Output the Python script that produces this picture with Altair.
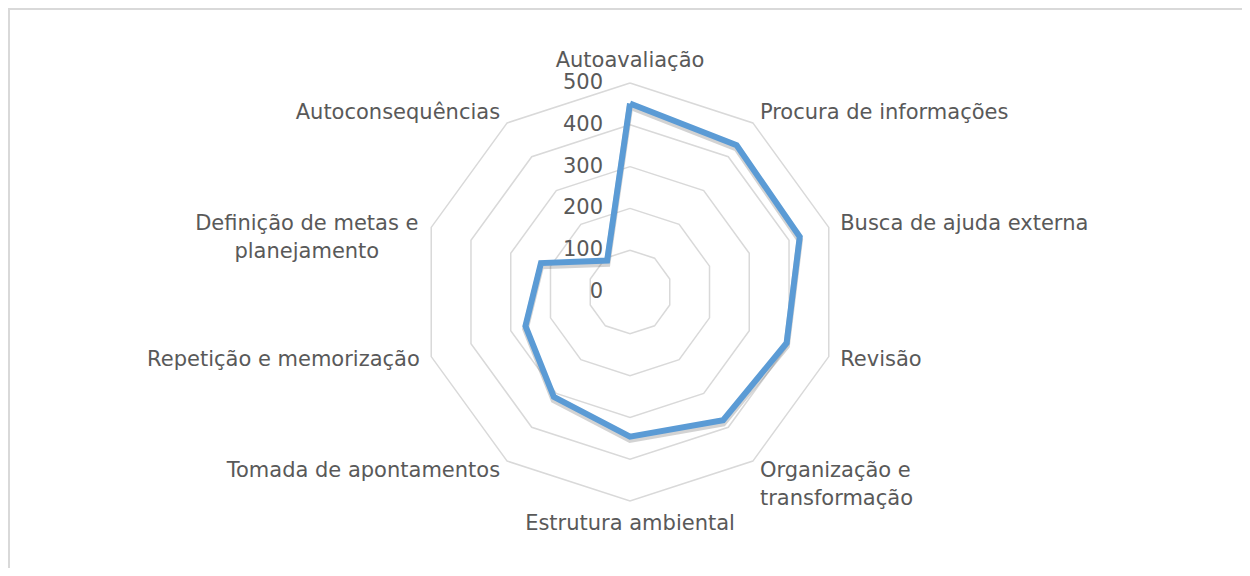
import math
import altair as alt
import pandas as pd

# ---------------- data ----------------
categories = [
    "Autoavaliação",
    "Procura de informações",
    "Busca de ajuda externa",
    "Revisão",
    "Organização e\ntransformação",
    "Estrutura ambiental",
    "Tomada de apontamentos",
    "Repetição e memorização",
    "Definição de metas e\nplanejamento",
    "Autoconsequências",
]
values = [451, 434, 427, 394, 379, 346, 310, 263, 224, 93]
ring_values = [100, 200, 300, 400, 500]
tick_values = [0, 100, 200, 300, 400, 500]

# ---------------- layout / style ----------------
W, H = 1234, 560
CX, CY = 622, 284          # centre in plot coords (px)
PX = 209 / 500             # px per data unit
LABEL_R = 221 / PX         # label radius (data units)
FONT = "DejaVu Sans"
FS = 21
TXT = "#595959"
GRID = "#d9d9d9"
BLUE = "#5b9bd5"

xs = alt.Scale(domain=[-CX / PX, (W - CX) / PX], nice=False, zero=False)
ys = alt.Scale(domain=[-(H - CY) / PX, CY / PX], nice=False, zero=False)

n = len(categories)
ang = [2 * math.pi * i / n for i in range(n)]

# series polygon (closed)
rows = []
for k in range(n + 1):
    i = k % n
    rows.append({"x": values[i] * math.sin(ang[i]), "y": values[i] * math.cos(ang[i]), "o": k})
series_df = pd.DataFrame(rows)

# grid rings
rrows = []
for r in ring_values:
    for k in range(n + 1):
        i = k % n
        rrows.append({"ring": r, "x": r * math.sin(ang[i]), "y": r * math.cos(ang[i]), "o": k})
ring_df = pd.DataFrame(rrows)

tick_df = pd.DataFrame({"x": [0] * len(tick_values), "y": tick_values,
                        "t": [str(v) for v in tick_values]})

lrows = []
for i, c in enumerate(categories):
    s = math.sin(ang[i])
    co = math.cos(ang[i])
    if abs(s) < 0.1:
        side = "top" if co > 0 else "bottom"
    else:
        side = "left" if s > 0 else "right"
    if side == "right" and "\n" in c:
        side = "rightblock"
    lrows.append({"x": LABEL_R * s, "y": LABEL_R * co, "t": c, "side": side})
lab_df = pd.DataFrame(lrows)

X = lambda: alt.X("x:Q", scale=xs, axis=None)
Y = lambda: alt.Y("y:Q", scale=ys, axis=None)

rings = alt.Chart(ring_df).mark_line(color=GRID, strokeWidth=1.5).encode(
    x=X(), y=Y(), detail="ring:N", order="o:Q")

shadow = alt.Chart(series_df).mark_line(
    color="#606060", strokeWidth=6.5, opacity=0.28, yOffset=3, strokeJoin="miter"
).encode(x=X(), y=Y(), order="o:Q")

line = alt.Chart(series_df).mark_line(
    color=BLUE, strokeWidth=6, strokeJoin="miter"
).encode(x=X(), y=Y(), order="o:Q")

ticks = alt.Chart(tick_df).mark_text(
    align="right", baseline="middle", dx=-27, font=FONT, fontSize=FS, color=TXT
).encode(x=X(), y=Y(), text="t:N")


def lab(side, **kw):
    return alt.Chart(lab_df).transform_filter(alt.datum.side == side).mark_text(
        font=FONT, fontSize=FS, color=TXT, lineBreak="\n", lineHeight=28, **kw
    ).encode(x=X(), y=Y(), text="t:N")


labels = [
    lab("top", align="center", baseline="bottom"),
    lab("bottom", align="center", baseline="top"),
    lab("left", align="left", baseline="middle"),
    lab("right", align="right", baseline="middle"),
    lab("rightblock", align="center", baseline="middle", dx=-113),
]

border_top = alt.Chart(tick_df).mark_rule(color=GRID, strokeWidth=2).encode(
    x=alt.value(0), x2=alt.value(W), y=alt.value(1))
border_left = alt.Chart(tick_df).mark_rule(color=GRID, strokeWidth=2).encode(
    x=alt.value(1), y=alt.value(0), y2=alt.value(H))

chart = alt.layer(
    border_top, border_left, rings, shadow, line, ticks, *labels
).properties(
    width=W, height=H, autosize=alt.AutoSizeParams(type="none"), padding=0
).configure_view(stroke=None)

chart.save("out.html", embed_options={"renderer": "svg", "actions": False})
